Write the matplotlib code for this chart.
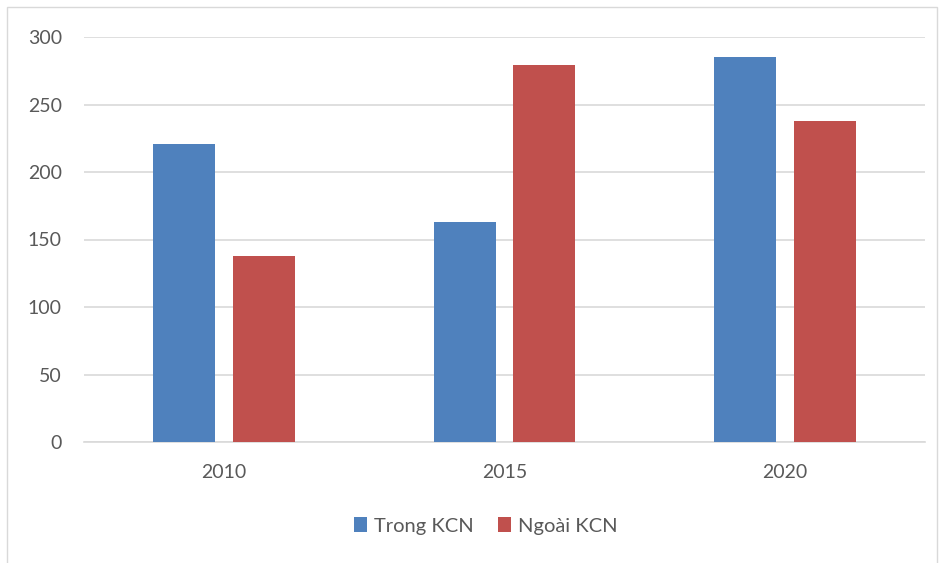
import matplotlib
matplotlib.use("Agg")
import matplotlib.pyplot as plt
import numpy as np
from matplotlib.patches import Rectangle

categories = ["2010", "2015", "2020"]
series_names = ["Trong KCN", "Ngoài KCN"]
trong = [221, 163, 285]
ngoai = [138, 279, 238]
yticks = [0, 50, 100, 150, 200, 250, 300]

plt.rcParams['font.family'] = ['Lato', 'DejaVu Sans']

fig = plt.figure(figsize=(9.44, 5.63), dpi=100)
ax = fig.add_axes([84/944, 1-442/563, (925-84)/944, (442-37)/563])

x = np.arange(len(categories))
w = 0.221
off = 0.142
ax.bar(x - off, trong, w, color="#4F81BD", label=series_names[0], zorder=3)
ax.bar(x + off, ngoai, w, color="#C0504D", label=series_names[1], zorder=3)

ax.set_xlim(-0.5, 2.5)
ax.set_ylim(0, 300)
ax.set_yticks(yticks)
ax.set_xticks(x)
ax.set_xticklabels(categories)
ax.grid(axis='y', color="#D9D9D9", linewidth=1.2, zorder=0)
ax.set_axisbelow(True)
for s in ["top", "right", "left"]:
    ax.spines[s].set_visible(False)
ax.spines["bottom"].set_color("#D9D9D9")
ax.spines["bottom"].set_linewidth(1.2)
ax.tick_params(axis='both', length=0, labelsize=14, colors="#595959")
ax.tick_params(axis='y', pad=16)
ax.tick_params(axis='x', pad=16)

leg = fig.legend(loc="center", bbox_to_anchor=(486/944, 1-526/563), ncol=2,
                 frameon=False, fontsize=14.5, handlelength=0.65, handleheight=0.75,
                 handletextpad=0.35, columnspacing=1.2)
for t in leg.get_texts():
    t.set_color("#595959")

fig.patches.append(Rectangle((7/944, -0.1), (937-7)/944, 1.1 - 7/563,
                             transform=fig.transFigure, fill=False,
                             edgecolor="#D9D9D9", linewidth=1))

fig.savefig("out.png", dpi=100)
